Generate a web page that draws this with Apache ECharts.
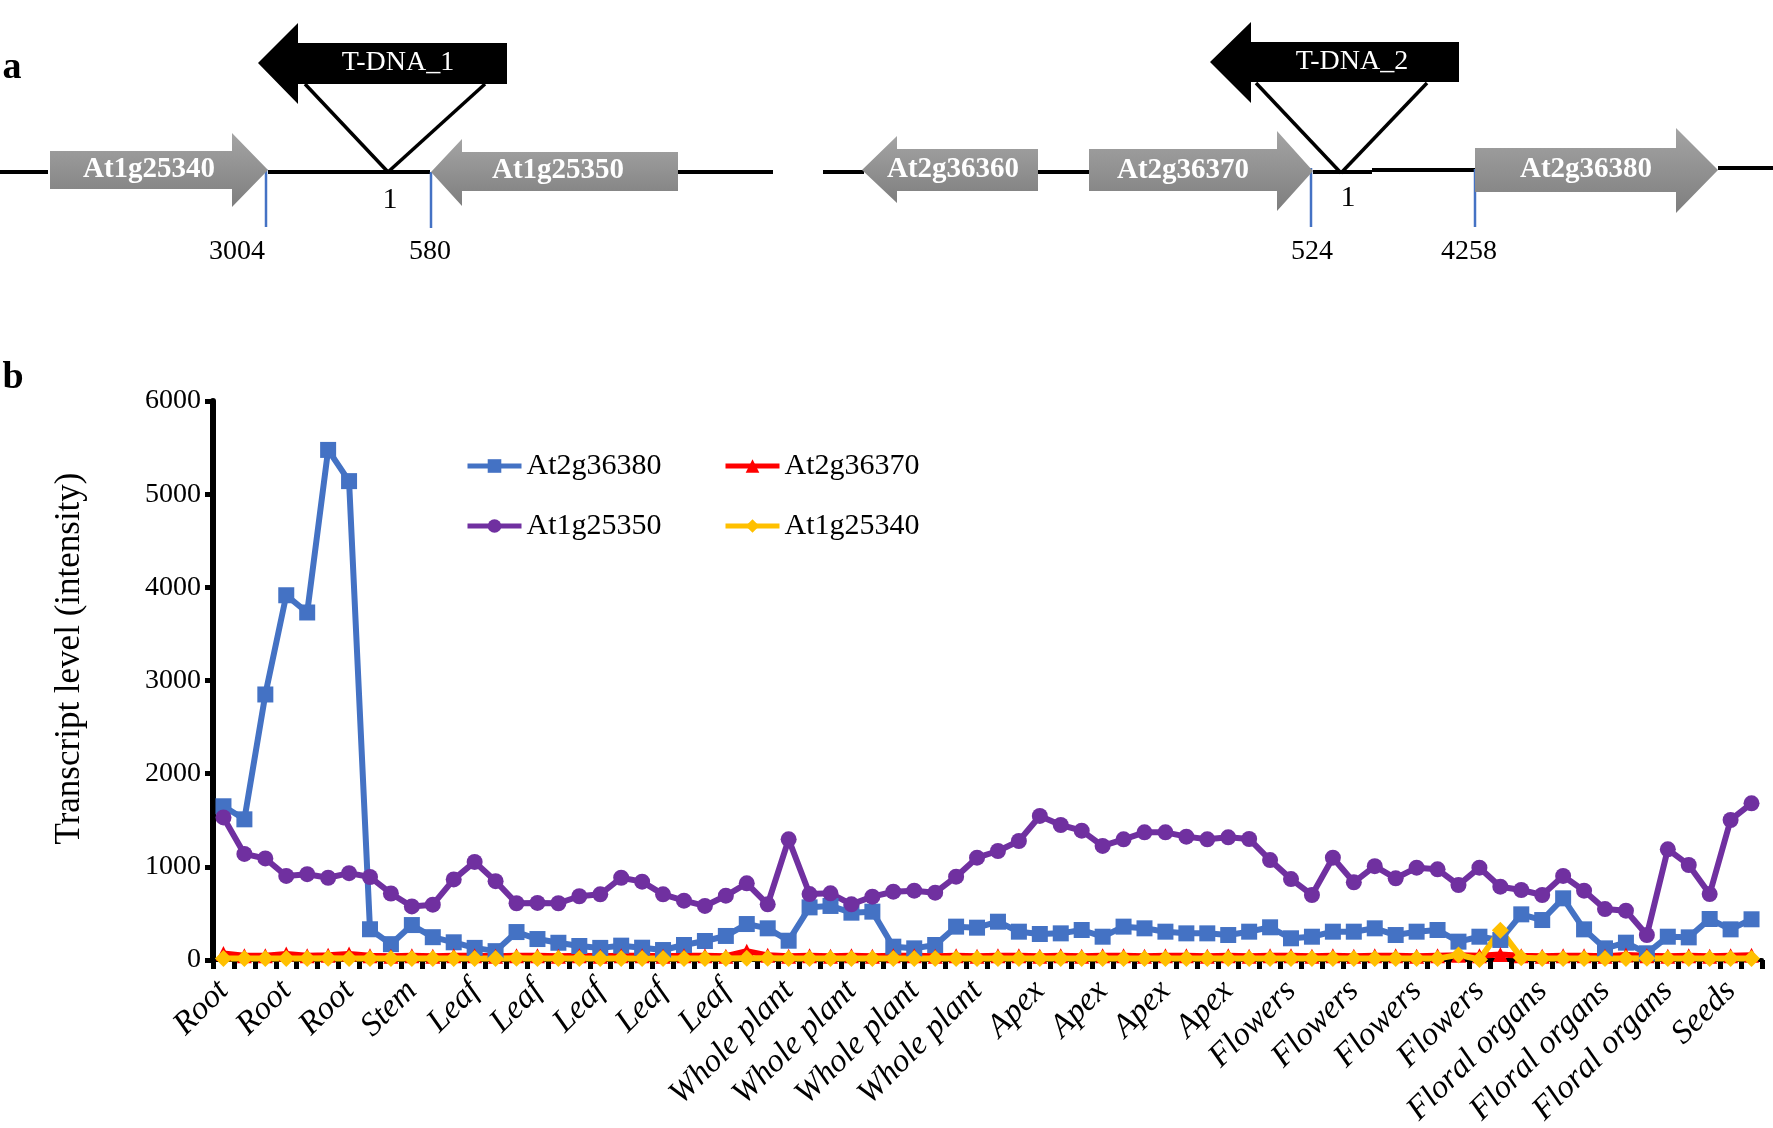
<!DOCTYPE html>
<html>
<head>
<meta charset="UTF-8">
<title>Transcript level</title>
<style>
html,body{margin:0;padding:0;background:#fff;}
#main{width:1773px;height:1128px;}
</style>
</head>
<body>
<div id="main"></div>
<script src="https://cdn.jsdelivr.net/npm/echarts@6/dist/echarts.min.js"></script>
<script>
// tissue label shown under every third sample
var tickLabels = ['Root','Root','Root','Stem','Leaf','Leaf','Leaf','Leaf','Leaf',
  'Whole plant','Whole plant','Whole plant','Whole plant','Apex','Apex','Apex','Apex',
  'Flowers','Flowers','Flowers','Flowers','Floral organs','Floral organs','Floral organs','Seeds'];

var at2g36380 = [1650,1510,2850,3915,3730,5475,5140,330,170,375,
  245,190,130,95,300,225,185,150,130,154,
  132,107,161,204,258,386,340,207,565,580,
  508,519,143,125,161,358,347,411,304,279,
  286,322,250,358,340,304,286,286,268,304,
  351,233,250,304,304,340,268,304,322,197,
  250,215,490,429,662,329,125,186,72,250,
  243,440,329,437];
var at1g25350 = [1530,1139,1090,902,921,883,932,891,714,575,
  594,865,1053,846,609,613,609,684,705,883,
  841,705,637,580,690,823,598,1295,708,716,
  598,680,733,744,723,894,1098,1170,1277,1546,
  1449,1388,1224,1295,1370,1370,1324,1295,1317,1299,
  1073,869,698,1098,834,1007,877,991,973,805,
  991,787,751,698,902,744,547,529,268,1188,
  1020,708,1503,1682];
var at2g36370 = [70,45,45,65,45,50,65,45,40,45,
  40,45,45,40,45,45,40,45,40,45,
  45,40,45,45,40,95,50,40,45,40,
  45,40,45,45,40,45,40,45,45,40,
  45,40,45,45,40,45,45,40,45,40,
  45,45,40,45,40,45,45,40,45,50,
  45,60,45,40,45,45,40,55,45,40,
  45,40,45,50];
var at1g25340 = [15,15,15,15,15,20,15,15,15,15,
  15,15,15,15,20,15,15,15,15,15,
  15,15,15,15,15,20,20,15,15,15,
  15,15,15,15,15,15,15,15,15,15,
  15,15,15,15,15,15,15,15,15,15,
  15,15,15,15,15,15,15,15,15,55,
  5,320,25,15,15,15,15,15,20,15,
  15,15,15,15];

var samples = [];
for (var i = 0; i < at2g36380.length; i++) {
  samples.push(tickLabels[Math.floor(i / 3)] + '|' + i);
}

var serif = '"Liberation Serif", "Times New Roman", serif';
var myChart = echarts.init(document.getElementById('main'));

// ---- panel a : gene diagram ----
var grayFill = new echarts.graphic.LinearGradient(0, 0, 0, 1, [
  {offset: 0, color: '#a4a4a4'}, {offset: 1, color: '#7e7e7e'}
]);
function rightArrow(x0, xh, xt, bt, bb, ht, hb, cy) {
  return {type: 'polygon', shape: {points: [[x0, bt], [xh, bt], [xh, ht], [xt, cy], [xh, hb], [xh, bb], [x0, bb]]},
    style: {fill: grayFill}, z: 2};
}
function leftArrow(xt, xh, x1, bt, bb, ht, hb, cy, fill) {
  return {type: 'polygon', shape: {points: [[xt, cy], [xh, ht], [xh, bt], [x1, bt], [x1, bb], [xh, bb], [xh, hb]]},
    style: {fill: fill || grayFill}, z: 2};
}
function seg(x1, y1, x2, y2, w, c) {
  return {type: 'line', shape: {x1: x1, y1: y1, x2: x2, y2: y2}, style: {stroke: c || '#000', lineWidth: w}, z: 1};
}
function label(txt, x, y, size, color, weight) {
  return {type: 'text', x: x, y: y, z: 3,
    style: {text: txt, fill: color || '#000', font: (weight || 'normal') + ' ' + size + 'px ' + serif,
      align: 'center', verticalAlign: 'middle', textAlign: 'center', textVerticalAlign: 'middle'}};
}

var diagram = [
  // left locus
  seg(0, 172, 48, 172, 4),
  seg(268, 172, 430, 172, 4),
  seg(678, 172, 773, 172, 4),
  rightArrow(50, 232, 268, 151, 189, 133, 207, 170),
  leftArrow(431, 462, 678, 152, 191, 139, 206, 172),
  seg(266, 169, 266, 227, 2.5, '#4472C4'),
  seg(431, 172, 431, 228, 2.5, '#4472C4'),
  leftArrow(258, 298, 507, 43, 84, 23, 104, 63, '#000'),
  seg(305, 84, 388, 172, 3.5),
  seg(485, 84, 388, 172, 3.5),
  label('At1g25340', 149, 170, 29, '#fff', 'bold'),
  label('At1g25350', 558, 171, 29, '#fff', 'bold'),
  label('T-DNA_1', 398, 63, 28, '#fff'),
  label('1', 390, 200, 30),
  label('3004', 237, 252, 28),
  label('580', 430, 252, 28),
  // right locus
  seg(823, 172, 864, 172, 4),
  seg(1036, 172, 1090, 172, 4),
  seg(1313, 172, 1372, 172, 4),
  seg(1372, 170, 1476, 170, 4),
  seg(1718, 168, 1773, 168, 4),
  leftArrow(862, 897, 1038, 149, 191, 136, 203, 170),
  rightArrow(1089, 1277, 1313, 149, 191, 131, 211, 171),
  rightArrow(1475, 1676, 1718, 148, 192, 128, 213, 170),
  seg(1311, 168, 1311, 227, 2.5, '#4472C4'),
  seg(1475, 169, 1475, 227, 2.5, '#4472C4'),
  leftArrow(1210, 1251, 1459, 42, 82, 22, 103, 62, '#000'),
  seg(1256, 83, 1341, 173, 3.5),
  seg(1427, 83, 1341, 173, 3.5),
  label('At2g36360', 953, 170, 29, '#fff', 'bold'),
  label('At2g36370', 1183, 171, 29, '#fff', 'bold'),
  label('At2g36380', 1586, 170, 29, '#fff', 'bold'),
  label('T-DNA_2', 1352, 62, 28, '#fff'),
  label('1', 1348, 198, 30),
  label('524', 1312, 252, 28),
  label('4258', 1469, 252, 28),
  // panel letters
  label('a', 12, 68, 38, '#000', 'bold'),
  label('b', 13, 378, 38, '#000', 'bold')
];

function legendAt(name, left, top) {
  return {data: [name], left: left, top: top, padding: 0, itemWidth: 54, itemHeight: 17,
    selectedMode: false, lineStyle: {width: 5}, textStyle: {fontFamily: serif, fontSize: 30, color: '#000'}};
}

function lineSeries(name, data, symbol, size, color) {
  return {name: name, type: 'line', data: data, symbol: symbol, symbolSize: size, showAllSymbol: true,
    itemStyle: {color: color}, lineStyle: {color: color, width: 6}};
}

var option = {
  animation: false,
  backgroundColor: '#fff',
  graphic: diagram,
  legend: [
    legendAt('At2g36380', 465, 451),
    legendAt('At2g36370', 723, 451),
    legendAt('At1g25350', 465, 511),
    legendAt('At1g25340', 723, 511)
  ],
  grid: {left: 213, right: 11, top: 401, bottom: 168, containLabel: false, outerBoundsMode: 'none'},
  xAxis: {
    type: 'category',
    data: samples,
    boundaryGap: true,
    axisLine: {lineStyle: {color: '#000', width: 4}},
    axisTick: {show: true, interval: 0, length: 9, lineStyle: {color: '#000', width: 5}},
    axisLabel: {
      interval: 2, rotate: 45, margin: 26, color: '#000',
      fontFamily: serif, fontSize: 33, fontStyle: 'italic',
      formatter: function (v) { return v.split('|')[0]; }
    },
    splitLine: {show: false}
  },
  yAxis: {
    type: 'value', min: 0, max: 6000, interval: 1000,
    name: 'Transcript level (intensity)', nameLocation: 'middle', nameGap: 126,
    nameTextStyle: {fontFamily: serif, fontSize: 35, color: '#000', padding: [0, 0, 0, 44]},
    axisLine: {show: true, lineStyle: {color: '#000', width: 6}},
    axisTick: {show: true, length: 8, lineStyle: {color: '#000', width: 5}},
    axisLabel: {margin: 12, color: '#000', fontFamily: serif, fontSize: 28,
      formatter: function (v) { return String(v); }},
    splitLine: {show: false}
  },
  series: [
    lineSeries('At2g36380', at2g36380, 'rect', 16, '#4472C4'),
    lineSeries('At2g36370', at2g36370, 'triangle', 15, '#FF0000'),
    lineSeries('At1g25350', at1g25350, 'circle', 16, '#7030A0'),
    lineSeries('At1g25340', at1g25340, 'diamond', 17, '#FFC000')
  ]
};
myChart.setOption(option);
</script>
</body>
</html>
